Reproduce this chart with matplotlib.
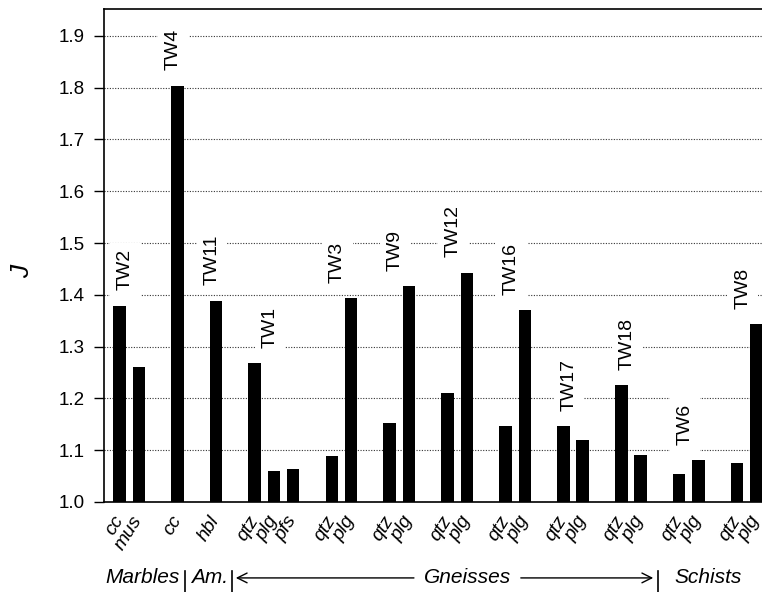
import numpy as np
import matplotlib
matplotlib.use("Agg")
import matplotlib.pyplot as plt

plt.rcParams['font.family'] = ['Liberation Sans', 'DejaVu Sans']

# sample groups, minerals and J values
samples = ["TW2", "TW4", "TW11", "TW1", "TW3", "TW9", "TW12", "TW16", "TW17", "TW18", "TW6", "TW8"]
minerals = [["cc", "mus"], ["cc"], ["hbl"], ["qtz", "plg", "pfs"], ["qtz", "plg"], ["qtz", "plg"],
            ["qtz", "plg"], ["qtz", "plg"], ["qtz", "plg"], ["qtz", "plg"], ["qtz", "plg"], ["qtz", "plg"]]
j_values = [[1.379, 1.261], [1.804], [1.389], [1.268, 1.059, 1.063], [1.088, 1.393], [1.153, 1.417],
            [1.210, 1.443], [1.147, 1.371], [1.147, 1.119], [1.225, 1.091], [1.055, 1.081], [1.075, 1.344]]

# bar slots: consecutive inside a group, one empty slot between groups
xs, heights, labels, label_pos = [], [], [], []
slot = 0
for mins, vals in zip(minerals, j_values):
    pos = list(range(slot, slot + len(vals)))
    xs += pos
    heights += vals
    labels += mins
    label_pos.append((np.mean(pos) - 0.2, max(vals)))
    slot += len(vals) + 1

fig = plt.figure(figsize=(7.62, 5.92), dpi=100)
ax = fig.add_axes([104.5 / 762, 90 / 592, (766 - 104.5) / 762, 493 / 592])

ax.bar(xs, np.array(heights) - 1.0, bottom=1.0, width=0.65, color='black', zorder=2)

ax.set_xlim(-0.78, 33.5)
ax.set_ylim(1.0, 1.952)
ax.set_yticks(np.arange(1.0, 1.91, 0.1))
ax.set_yticklabels([f"{v:.1f}" for v in np.arange(1.0, 1.91, 0.1)], fontsize=13.5)
ax.tick_params(axis='y', length=7, width=1, pad=7)
ax.tick_params(axis='x', length=0, pad=11)
ax.set_xticks(xs)
ax.set_xticklabels(labels, rotation=58, ha='right', va='center', rotation_mode='anchor',
                   fontsize=14, style='italic')

ax.yaxis.grid(True, linestyle=(0, (1, 1.4)), color='#333333', linewidth=0.8)
ax.set_axisbelow(True)
for s in ax.spines.values():
    s.set_linewidth(1.2)

ax.text(-0.125, 0.467, "J", transform=ax.transAxes, rotation=90, ha='center', va='center',
        fontsize=19, style='italic')

for name, (lx, ly) in zip(samples, label_pos):
    ax.annotate(name, (lx, ly), xytext=(0, 11), textcoords='offset points',
                rotation=90, ha='center', va='bottom', fontsize=14, zorder=4,
                bbox=dict(boxstyle='square,pad=0.35', fc='white', ec='none'))

# rock type labels below the axis
tr = ax.get_xaxis_transform()
ty = -0.154
for txt, x in [("Marbles", 1.17), ("Am.", 4.64), ("Gneisses", 18.06), ("Schists", 30.5)]:
    ax.text(x, ty, txt, transform=tr, ha='center', va='center', fontsize=15, style='italic',
            clip_on=False)
for x in [3.4, 5.83, 27.9]:
    ax.plot([x, x], [-0.14, -0.19], transform=tr, color='black', lw=1.2, clip_on=False)
ax.annotate("", xy=(5.88, ty), xytext=(15.4, ty), xycoords=tr, textcoords=tr,
            arrowprops=dict(arrowstyle='->,head_length=0.7,head_width=0.35', lw=1, color='black'))
ax.annotate("", xy=(27.8, ty), xytext=(20.65, ty), xycoords=tr, textcoords=tr,
            arrowprops=dict(arrowstyle='->,head_length=0.7,head_width=0.35', lw=1, color='black'))

fig.savefig("out.png", dpi=100)
